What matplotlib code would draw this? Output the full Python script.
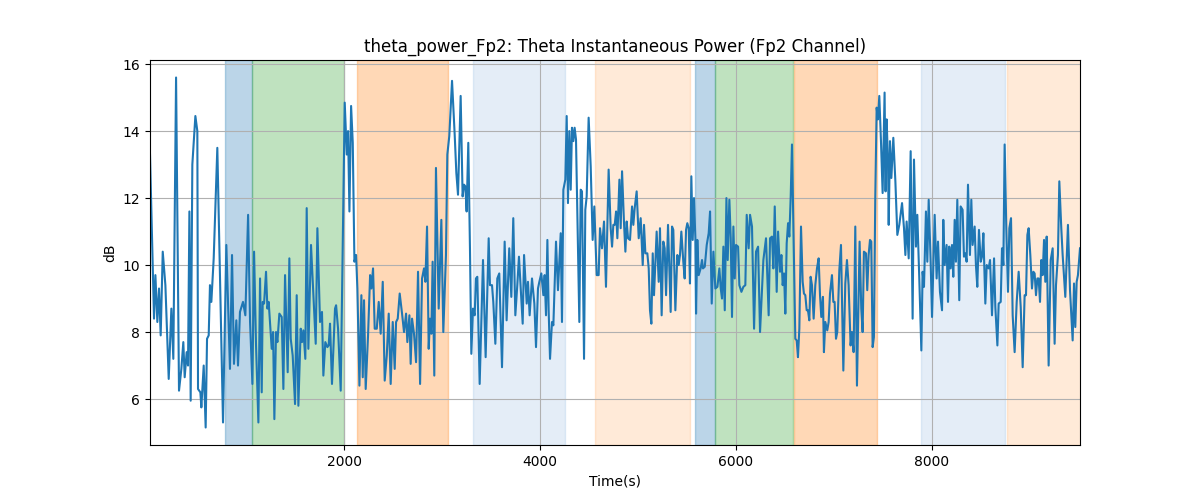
# theta power trace for channel Fp2 with shaded task segments
import numpy as np
import matplotlib
matplotlib.use("Agg")
import matplotlib.pyplot as plt

# ---- data ----
time_s = [
    20, 61, 75, 95, 112, 129, 150, 177, 211, 238, 258, 286, 316, 340, 360, 374, 394, 408, 422, 435,
    452, 483, 503, 510, 534, 544, 568, 588, 602, 619, 632, 646, 670, 707, 765, 799, 836, 857, 877, 901,
    918, 938, 969,
    993, 1021, 1041, 1065, 1082, 1102, 1126, 1143, 1160, 1170, 1184, 1204, 1218, 1231, 1262, 1276, 1289, 1306, 1320, 1340,
    1364, 1381, 1398, 1425, 1442, 1456, 1476, 1500, 1517, 1534, 1558, 1571, 1585, 1605, 1619, 1636, 1663, 1687, 1711, 1728,
    1755, 1775, 1789, 1809, 1830, 1843, 1857, 1877, 1908,
    1919, 1939, 1966, 2007, 2028, 2041, 2055, 2072, 2089, 2106, 2123, 2136, 2157, 2177, 2191, 2204, 2221, 2245, 2266, 2279,
    2296, 2313, 2334, 2354, 2374, 2395, 2415, 2436, 2456, 2476, 2497, 2517, 2531, 2548, 2568, 2592, 2612, 2633, 2646, 2667,
    2680, 2694, 2714, 2735, 2755, 2776, 2796, 2816, 2830, 2847,
    2864, 2877, 2891, 2904, 2921, 2938, 2966, 2993, 3013, 3040, 3054, 3074, 3102, 3129, 3146, 3163, 3190, 3210, 3224, 3238,
    3251, 3268, 3285, 3299, 3316, 3333, 3346, 3360, 3384, 3401, 3418, 3445, 3476, 3489, 3510, 3523, 3544, 3564, 3584, 3612,
    3639, 3659, 3686, 3707, 3727, 3748, 3768, 3785,
    3809, 3823, 3837, 3864, 3877, 3894, 3918, 3942, 3959, 3979, 3993, 4013, 4034, 4047, 4061, 4075, 4088, 4102, 4122, 4136,
    4163, 4183, 4211, 4224, 4238, 4258, 4272, 4285, 4299, 4313, 4326, 4340, 4353, 4367, 4401, 4415, 4428, 4449, 4462, 4476,
    4496, 4517, 4537, 4554, 4578, 4598, 4612, 4632, 4653, 4673, 4700, 4721,
    4735, 4748, 4762, 4776, 4789, 4810, 4823, 4837, 4857, 4871, 4884, 4898, 4918, 4939, 4952, 4966, 4986, 5007, 5027, 5048,
    5061, 5075, 5095, 5109, 5122, 5136, 5150, 5163, 5177, 5190, 5211, 5224, 5241, 5258, 5272, 5286, 5306, 5320, 5333, 5347,
    5360, 5381, 5401, 5415, 5428, 5442, 5462, 5476, 5490, 5503, 5517, 5530, 5544, 5558, 5571, 5585, 5592, 5605, 5619, 5639,
    5653, 5663,
    5681, 5701, 5721, 5735, 5752, 5769, 5789, 5810, 5830, 5844, 5857, 5871, 5885, 5902, 5915, 5932, 5946, 5959, 5973, 5987,
    6000, 6021, 6034, 6055, 6075, 6095, 6109, 6129, 6143, 6163, 6184, 6204, 6225, 6245, 6265, 6279, 6306, 6333, 6347, 6367,
    6381, 6395, 6415, 6429, 6449, 6463, 6476, 6490, 6503, 6517, 6531, 6544, 6558, 6571,
    6605, 6619, 6632, 6646, 6663, 6680, 6693, 6707, 6721, 6734, 6748, 6761, 6775, 6792, 6809, 6826, 6843, 6857, 6870, 6887,
    6897, 6911, 6931, 6945, 6959, 6979, 6993, 7006, 7020, 7033, 7054, 7071, 7095, 7115, 7132, 7149, 7169, 7183, 7200, 7217,
    7234, 7261, 7278, 7292, 7305, 7326, 7339, 7353, 7367, 7380, 7394, 7407, 7421, 7435, 7448, 7462, 7479, 7496, 7516,
    7526, 7537, 7551, 7558, 7571, 7585, 7605, 7626, 7646, 7666, 7694, 7714, 7728, 7741, 7762, 7782, 7802, 7816, 7836, 7850,
    7870, 7891, 7904, 7918, 7938, 7952, 7966, 7986, 8000, 8027, 8047, 8061, 8081, 8102, 8115, 8129, 8149, 8163, 8176, 8190,
    8204, 8217, 8231, 8244, 8258, 8278, 8292, 8312, 8326, 8340, 8353, 8367, 8387, 8401, 8414, 8435, 8448, 8462, 8479,
    8497, 8510, 8524, 8544, 8558, 8578, 8592, 8612, 8633, 8646, 8667, 8680, 8701, 8714, 8728, 8741, 8758, 8775, 8789, 8806,
    8823, 8843, 8864, 8884, 8905, 8925, 8945, 8959, 8973, 8986, 9003, 9020, 9034, 9047, 9061, 9075, 9088, 9102, 9115, 9129,
    9143, 9156, 9170, 9190, 9211, 9231, 9251, 9265, 9285, 9299, 9319, 9333, 9360, 9387, 9408, 9435, 9449, 9462, 9476, 9489,
    9510,
]
power_db = [
    13.3, 8.4, 9.7, 8.3, 9.3, 7.9, 10.4, 9.4, 6.6, 8.7, 7.2, 15.6, 6.25, 6.9, 7.7, 6.65, 7.4, 7.0, 11.6, 5.95,
    13.0, 14.45, 14.0, 6.3, 6.2, 5.75, 7.0, 5.15, 7.8, 7.9, 9.4, 8.9, 10.2, 13.5, 5.3, 10.6, 6.9, 10.3, 7.05, 8.35,
    7.0, 8.6, 8.9,
    8.5, 11.5, 8.3, 6.45, 10.4, 7.6, 5.3, 9.6, 6.2, 8.9, 8.85, 9.8, 8.7, 8.9, 7.5, 8.0, 5.4, 8.0, 7.7, 8.55,
    8.45, 6.3, 9.7, 6.8, 10.2, 7.8, 7.3, 5.85, 9.1, 5.8, 8.1, 7.7, 8.05, 7.2, 11.7, 7.5, 10.6, 9.1, 7.65, 11.1,
    8.3, 8.6, 6.7, 7.7, 7.55, 7.6, 8.25, 6.45, 8.7,
    8.8, 8.1, 6.25, 14.85, 13.3, 14.0, 11.6, 14.75, 13.65, 10.1, 10.3, 9.3, 6.4, 9.1, 6.65, 8.95, 6.3, 7.9, 9.7, 9.3,
    9.9, 8.1, 8.1, 8.9, 7.95, 9.5, 6.55, 7.3, 8.55, 6.45, 8.3, 6.9, 8.3, 8.4, 9.15, 8.55, 8.0, 8.55, 7.7, 8.5,
    7.05, 8.4, 7.95, 7.1, 9.8, 6.45, 9.6, 9.9, 9.5, 11.15,
    7.5, 8.4, 7.95, 10.1, 6.7, 12.9, 8.7, 11.35, 8.0, 10.3, 13.3, 13.85, 15.5, 13.9, 12.75, 12.1, 15.05, 12.05, 12.4, 12.35,
    11.6, 13.65, 10.5, 7.35, 8.7, 8.5, 9.6, 9.65, 6.45, 8.3, 10.15, 7.25, 10.8, 9.4, 9.4, 8.9, 7.65, 9.6, 9.75, 6.95,
    10.7, 8.35, 10.5, 9.05, 11.4, 8.5, 9.4, 10.25,
    8.95, 8.25, 10.3, 8.85, 9.5, 8.5, 9.6, 8.85, 7.55, 9.3, 9.5, 9.75, 9.1, 9.7, 8.5, 10.75, 8.65, 7.2, 8.3, 8.2,
    10.7, 9.25, 10.95, 8.3, 12.25, 12.55, 14.45, 11.85, 14.0, 12.25, 14.1, 13.7, 14.1, 13.75, 8.3, 12.25, 12.2, 7.2, 11.65, 12.05,
    14.4, 12.95, 10.75, 11.75, 9.7, 9.7, 11.1, 10.5, 11.3, 9.35, 12.85, 11.1,
    10.55, 11.2, 11.2, 11.6, 10.8, 12.55, 11.1, 12.8, 11.25, 10.4, 11.3, 10.8, 10.75, 11.75, 11.2, 11.7, 12.2, 10.8, 11.4, 10.0,
    11.2, 10.35, 10.35, 9.9, 8.65, 8.25, 10.35, 9.1, 10.1, 11.0, 9.5, 11.1, 8.5, 10.7, 10.5, 9.1, 11.2, 9.9, 8.6, 11.15,
    11.05, 8.65, 10.3, 10.0, 10.3, 11.0, 10.1, 9.6, 11.05, 11.25, 11.1, 9.45, 12.65, 10.75, 12.0, 10.8, 8.55, 10.75, 9.7, 9.9,
    10.15, 9.9,
    9.95, 10.6, 10.95, 11.6, 8.85, 10.4, 9.3, 9.35, 9.9, 9.3, 9.0, 10.55, 8.65, 12.0, 10.15, 11.95, 10.8, 8.45, 11.15, 9.6,
    10.6, 10.55, 9.4, 9.2, 9.35, 9.4, 11.5, 10.5, 11.5, 11.15, 8.1, 10.4, 10.55, 8.0, 9.25, 10.15, 10.8, 8.5, 10.8, 10.85,
    9.9, 11.75, 9.2, 11.0, 9.8, 10.3, 9.4, 9.75, 8.55, 10.65, 11.25, 10.85, 12.05, 13.6,
    7.8, 7.75, 7.25, 8.1, 11.15, 9.5, 9.15, 9.1, 8.65, 8.65, 8.35, 9.65, 9.4, 8.4, 9.4, 9.9, 10.2, 9.1, 8.45, 9.05,
    7.4, 8.3, 8.05, 8.3, 9.15, 9.7, 8.9, 8.9, 7.8, 8.0, 9.85, 10.6, 6.85, 9.45, 10.15, 9.4, 7.6, 8.0, 7.4, 11.15,
    6.4, 10.7, 8.7, 8.0, 10.4, 10.35, 9.25, 10.3, 10.75, 10.7, 7.55, 7.85, 12.05, 14.7, 14.35, 15.05, 13.7, 12.15, 15.15,
    12.2, 14.35, 13.0, 11.2, 13.7, 12.6, 13.8, 12.5, 10.9, 11.2, 11.85, 11.1, 10.3, 11.3, 10.2, 13.4, 8.4, 13.15, 10.55, 11.5,
    9.6, 7.45, 9.8, 9.35, 11.6, 10.1, 11.95, 10.1, 8.45, 11.5, 9.6, 10.7, 9.2, 8.65, 11.35, 10.0, 10.6, 8.9, 10.55, 9.9,
    10.6, 9.65, 11.35, 10.1, 11.95, 8.95, 11.75, 11.65, 10.25, 10.35, 10.1, 12.4, 10.3, 11.95, 10.6, 11.15, 10.0, 9.35, 11.05,
    10.1, 10.25, 10.95, 8.85, 10.0, 9.9, 10.15, 8.5, 10.2, 8.75, 7.6, 8.85, 8.9, 10.5, 10.0, 13.6, 11.1, 9.2, 11.1, 11.4,
    8.5, 7.4, 8.9, 9.8, 8.75, 6.95, 9.1, 9.1, 10.9, 11.1, 10.3, 9.3, 9.8, 9.75, 9.1, 9.6, 9.6, 8.9, 10.15, 9.7,
    10.75, 9.5, 10.85, 7.0, 10.15, 10.5, 7.65, 9.4, 10.3, 12.5, 11.1, 10.3, 9.05, 11.2, 9.25, 7.75, 9.45, 8.15, 9.5, 9.7,
    10.5,
]

# task segments (start, end in seconds) and their kind
seg_start = [786, 1058, 2133, 3316, 4561, 5585, 5789, 6588, 7888, 8765]
seg_end   = [1058, 2002, 3056, 4252, 5528, 5789, 6577, 7435, 8746, 9600]
seg_kind  = ["a", "b", "c", "d", "e", "a", "b", "c", "d", "e"]

# ---- style ----
SEG_STYLE = {
    "a": ("tab:blue", 0.3),
    "b": ("tab:green", 0.3),
    "c": ("tab:orange", 0.3),
    "d": ("#6a9fd8", 0.18),
    "e": ("tab:orange", 0.16),
}

def main():
    t = np.array(time_s, dtype=float)
    y = np.array(power_db, dtype=float)

    fig, ax = plt.subplots(figsize=(12, 5), dpi=100)
    for s, e, k in zip(seg_start, seg_end, seg_kind):
        color, alpha = SEG_STYLE[k]
        ax.axvspan(s, e, color=color, alpha=alpha)

    ax.plot(t, y, color="tab:blue", lw=1.5)
    ax.set_xlim(t[0], t[-1])
    ax.grid(True)
    ax.set_title("theta_power_Fp2: Theta Instantaneous Power (Fp2 Channel)")
    ax.set_xlabel("Time(s)")
    ax.set_ylabel("dB")

    fig.savefig("out.png", dpi=100)
    plt.close(fig)

if __name__ == "__main__":
    main()
